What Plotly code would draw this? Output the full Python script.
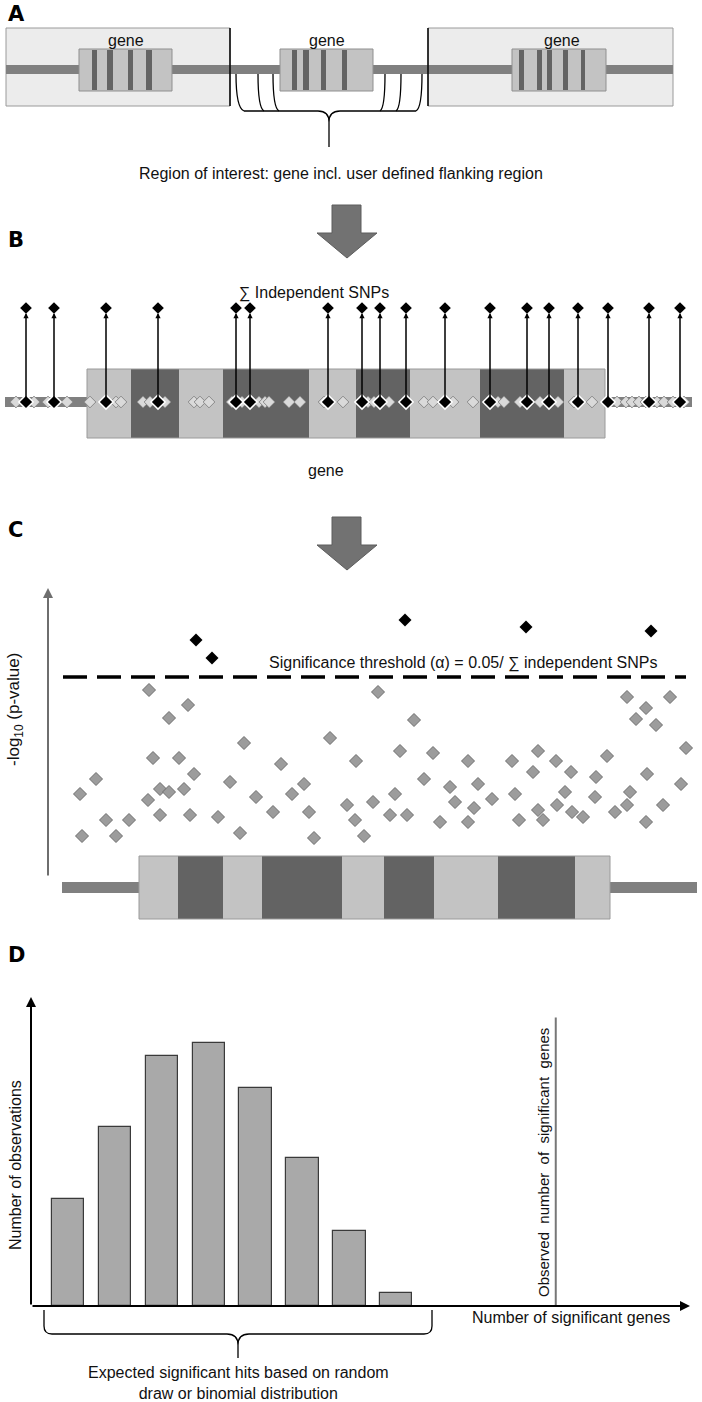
import plotly.graph_objects as go

W, H = 702, 1402

# ---------------- data ----------------
# panel B: SNP positions along the region (canvas x units)
snp_independent = [26, 54, 106, 158, 236, 250, 328, 362, 380, 406, 445, 490, 527, 549, 578, 608, 649, 680]
snp_other = [16, 34, 48, 67, 90, 116, 121, 143, 150, 165, 194, 200, 209, 232, 242, 259, 265, 269,
             289, 300, 324, 343, 368, 374, 389, 424, 433, 453, 473, 498, 504, 520, 540, 558, 574,
             592, 617, 626, 632, 639, 646, 657, 664, 673, 684]

# panel C: -log10(p) per SNP position
c_pos = [149, 188, 169, 378, 414, 330, 244, 627, 670, 646, 636, 656, 686, 153, 179, 400, 433, 538,
         607, 468, 512, 556, 356, 281, 96, 194, 80, 230, 424, 533, 571, 596, 647, 681, 160, 169,
         184, 148, 256, 292, 304, 395, 450, 478, 515, 565, 630, 595, 492, 455, 373, 347, 474, 557,
         627, 663, 106, 129, 160, 190, 218, 273, 309, 355, 390, 407, 440, 468, 519, 538, 543, 572,
         583, 615, 646, 82, 116, 240, 314, 364]
c_logp = [7.48, 6.88, 6.36, 7.40, 6.28, 5.56, 5.36, 7.20, 7.20, 6.76, 6.32, 6.08, 5.16, 4.76, 4.76,
          5.04, 4.96, 5.04, 4.84, 4.64, 4.64, 4.64, 4.64, 4.52, 3.92, 4.12, 3.32, 3.80, 3.92, 4.20,
          4.20, 4.00, 4.12, 3.72, 3.52, 3.40, 3.52, 3.08, 3.20, 3.32, 3.72, 3.32, 3.60, 3.72, 3.32,
          3.40, 3.40, 3.20, 3.12, 3.00, 3.00, 2.88, 2.76, 2.88, 2.88, 2.88, 2.28, 2.28, 2.48, 2.48,
          2.40, 2.60, 2.60, 2.28, 2.48, 2.48, 2.20, 2.20, 2.28, 2.68, 2.28, 2.60, 2.40, 2.60, 2.20,
          1.64, 1.64, 1.76, 1.56, 1.64]
sig_pos = [196, 212, 405, 526, 651]
sig_logp = [9.48, 8.76, 10.28, 10.0, 9.84]
threshold = 8.0

# panel D: null distribution of significant genes
bins = [0, 1, 2, 3, 4, 5, 6, 7]
counts = [41, 69, 96, 101, 84, 57, 29, 5]
observed = 10.4

# ---------------- schematic geometry (canvas px) ----------------
a_flank_boxes = [(6, 230), (428, 673)]
a_genes = [(79, 172), (280, 373), (512, 606)]
a_stripes = [[(92, 97), (107, 113), (128, 133), (146, 152)],
             [(292, 297), (303, 309), (321, 326), (342, 347)],
             [(519, 524), (537, 542), (547, 552), (563, 568), (581, 585)]]
a_gene_labels = [126, 327, 562]
b_exons = [87, 131, 179, 223, 309, 356, 410, 480, 564, 605]
c_exons = [139, 178, 223, 262, 342, 384, 434, 498, 575, 610]

LIGHT, DARK, BAND = "#c3c3c3", "#636363", "#808080"
NARROW = "Liberation Sans Narrow, Arial Narrow, Liberation Sans, Arial"
REG = "Liberation Sans, Arial"

fig = go.Figure()

def yd(top, bottom):
    return [1 - bottom / H, 1 - top / H]

shapes = []

def rect(x0, y0, x1, y1, fill, line=None, lw=1):
    shapes.append(dict(type="rect", xref="x", yref="y", x0=x0, y0=y0, x1=x1, y1=y1,
                       fillcolor=fill, line=dict(color=line or fill, width=lw if line else 0),
                       layer="below"))

def path(d, color="black", width=1.5, fill=None):
    s = dict(type="path", xref="x", yref="y", path=d, line=dict(color=color, width=width), layer="below")
    if fill:
        s["fillcolor"] = fill
    shapes.append(s)

# ---- panel A ----
for x0, x1 in a_flank_boxes:
    rect(x0, 28, x1, 106, "#ececec", "#9a9a9a", 1)
rect(6, 65, 673, 74, BAND)
for (x0, x1), stripes in zip(a_genes, a_stripes):
    rect(x0, 49, x1, 91, LIGHT, "#8f8f8f", 1)
    for s0, s1 in stripes:
        rect(s0, 50, s1, 90, DARK)
path("M 230 28 L 230 106", "black", 1.5)
path("M 428 28 L 428 106", "black", 1.5)
for xt, xb in [(236, 244), (258, 264), (273, 279)]:
    path(f"M {xt} 74 Q {xt} 108 {xb} 111", "black", 1.3)
for xt, xb in [(385, 380), (401, 396), (422, 416)]:
    path(f"M {xt} 74 Q {xt} 108 {xb} 111", "black", 1.3)
path("M 244 111 L 318 111 Q 329 111 329 122 Q 329 111 340 111 L 416 111 M 329 122 L 329 147", "black", 1.3)

# ---- arrows ----
for dy in (0, 312):
    path(f"M 332 {205+dy} L 361 {205+dy} L 361 {233+dy} L 377 {233+dy} L 347 {258+dy} "
         f"L 317 {233+dy} L 332 {233+dy} Z", "#5c5c5c", 1, fill="#727272")

# ---- panel B gene ----
rect(5, 397, 692, 407, BAND)
for i in range(len(b_exons) - 1):
    rect(b_exons[i], 369, b_exons[i + 1], 438, LIGHT if i % 2 == 0 else DARK)
rect(b_exons[0], 369, b_exons[-1], 438, "rgba(0,0,0,0)", "#9a9a9a", 1)

# ---- panel C gene ----
rect(62, 882, 697, 893, BAND)
for i in range(len(c_exons) - 1):
    rect(c_exons[i], 856, c_exons[i + 1], 919, LIGHT if i % 2 == 0 else DARK)
rect(c_exons[0], 856, c_exons[-1], 919, "rgba(0,0,0,0)", "#9a9a9a", 1)

# ---- panel D brace ----
path("M 44 1310 L 44 1326 Q 44 1334 52 1334 L 227 1334 Q 238 1334 238 1345 Q 238 1334 249 1334 "
     "L 424 1334 Q 432 1334 432 1326 L 432 1310 M 238 1345 L 238 1358", "black", 1.3)

# ---------------- traces ----------------
# B: SNPs on the gene (y2: 0 = gene, 1 = selected)
fig.add_trace(go.Scatter(x=snp_other, y=[0] * len(snp_other), mode="markers", xaxis="x", yaxis="y2",
                         cliponaxis=False,
                         marker=dict(symbol="diamond", size=9, color="#dadada",
                                     line=dict(color="#8a8a8a", width=1))))
fig.add_trace(go.Scatter(x=snp_independent, y=[0] * len(snp_independent), mode="markers",
                         xaxis="x", yaxis="y2", cliponaxis=False,
                         marker=dict(symbol="diamond", size=11, color="black",
                                     line=dict(color="white", width=1.5))))
fig.add_trace(go.Scatter(x=snp_independent, y=[1] * len(snp_independent), mode="markers",
                         xaxis="x", yaxis="y2", cliponaxis=False,
                         marker=dict(symbol="diamond", size=9, color="black")))

# C: association p-values
fig.add_trace(go.Scatter(x=[63, 686], y=[threshold, threshold], mode="lines", xaxis="x", yaxis="y3",
                         cliponaxis=False, line=dict(color="black", width=3.5, dash="24px,10px")))
fig.add_trace(go.Scatter(x=c_pos, y=c_logp, mode="markers", xaxis="x", yaxis="y3", cliponaxis=False,
                         marker=dict(symbol="diamond", size=10, color="#9c9c9c",
                                     line=dict(color="#6e6e6e", width=1))))
fig.add_trace(go.Scatter(x=sig_pos, y=sig_logp, mode="markers", xaxis="x", yaxis="y3", cliponaxis=False,
                         marker=dict(symbol="diamond", size=10, color="black")))

# D: bars and observed line
fig.add_trace(go.Bar(x=bins, y=counts, width=0.69, xaxis="x2", yaxis="y4",
                     marker=dict(color="#a9a9a9", line=dict(color="#3a3a3a", width=1.2))))
fig.add_trace(go.Scatter(x=[observed, observed], y=[0, 111], mode="lines", xaxis="x2", yaxis="y4",
                         cliponaxis=False, line=dict(color="#777777", width=2)))

# ---------------- annotations ----------------
ann = []

def text(x, y, t, size=16, font=NARROW, angle=0, bold=False, xanchor="center", color="#111111"):
    ann.append(dict(x=x, y=y, xref="x", yref="y", text=f"<b>{t}</b>" if bold else t, showarrow=False,
                    textangle=angle, xanchor=xanchor, yanchor="middle",
                    font=dict(family=font, size=size, color=color)))

def arrow(x0, y0, x1, y1, color="black", width=2):
    ann.append(dict(x=x1, y=y1, ax=x0, ay=y0, xref="x", yref="y", axref="x", ayref="y", text="",
                    showarrow=True, arrowhead=2, arrowsize=1.0, arrowwidth=width, arrowcolor=color))

for lab, y in [("A", 14), ("B", 240), ("C", 530), ("D", 955)]:
    text(6, y, lab, size=21, font="DejaVu Sans, Liberation Sans", bold=True, xanchor="left", color="black")

for x in a_gene_labels:
    text(x, 40, "gene", 16)
text(341, 173, "Region of interest: gene incl. user defined flanking region", 16)
text(314, 293, "∑ Independent SNPs", 16)
text(326, 470, "gene", 16)
text(463, 663, "Significance threshold (α) = 0.05/ ∑ independent SNPs", 16)
text(15, 710, "-log<sub>10</sub> (p-value)", 17, REG, angle=-90)
text(15, 1165, "Number of observations", 16, REG, angle=-90)
text(543, 1163, "Observed  number  of  significant  genes", 15, REG, angle=-90)
text(571, 1317, "Number of significant genes", 16)
text(238, 1383, "Expected significant hits based on random<br>draw or binomial distribution", 16)

# B stems (gene -> selected SNP)
for x in snp_independent:
    ann.append(dict(x=x, y=1, ax=x, ay=0, xref="x", yref="y2", axref="x", ayref="y2", text="",
                    showarrow=True, arrowhead=2, arrowsize=0.7, arrowwidth=1.5, arrowcolor="black",
                    standoff=5))

# axes arrows
arrow(48, 877, 48, 588, color="#6e6e6e", width=2)
arrow(31, 1306, 31, 997)
arrow(31, 1306, 690, 1306)

axis_off = dict(visible=False, showgrid=False, zeroline=False, fixedrange=True)
fig.update_layout(
    width=W, height=H, margin=dict(l=0, r=0, t=0, b=0),
    paper_bgcolor="white", plot_bgcolor="rgba(0,0,0,0)", showlegend=False,
    xaxis=dict(range=[0, W], domain=[0, 1], anchor="y", **axis_off),
    yaxis=dict(range=[H, 0], domain=[0, 1], anchor="x", **axis_off),
    yaxis2=dict(range=[0, 1], domain=yd(308, 402), anchor="x", **axis_off),
    yaxis3=dict(range=[0, (877 - 588) / 25], domain=yd(588, 877), anchor="x", **axis_off),
    xaxis2=dict(range=[(31 - 68) / 46.9, (690 - 68) / 46.9], domain=[31 / W, 690 / W], anchor="y4", **axis_off),
    yaxis4=dict(range=[0, (1306 - 997) / 2.6], domain=yd(997, 1306), anchor="x2", **axis_off),
    shapes=shapes, annotations=ann, bargap=0,
)

fig.write_html("out.html", config={"displayModeBar": False},
               post_script="document.body.style.margin='0px';")
